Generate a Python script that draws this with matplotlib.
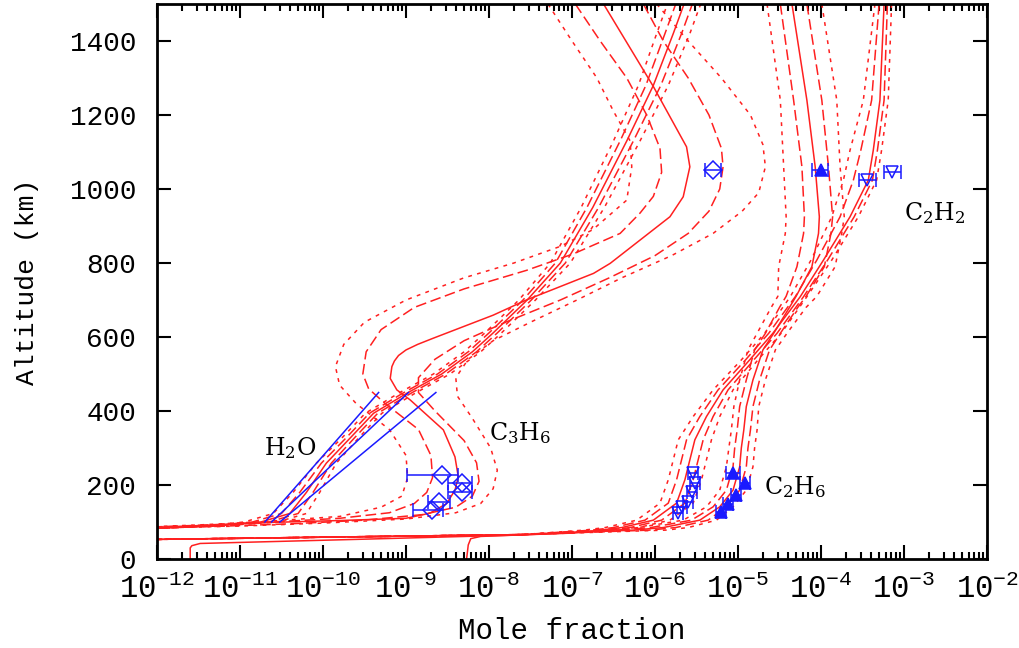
import numpy as np
import matplotlib
matplotlib.use('Agg')
import matplotlib.pyplot as plt
from matplotlib.ticker import FixedLocator, FuncFormatter, NullFormatter

plt.rcParams['font.family'] = ['Liberation Mono', 'DejaVu Sans Mono']
plt.rcParams['mathtext.fontset'] = 'custom'
plt.rcParams['mathtext.rm'] = 'Liberation Mono'
plt.rcParams['mathtext.default'] = 'regular'

# ---- model profiles: altitude (km) and log10 mole fraction ----
# H2O model (median + offsets of the 1-sigma / 2-sigma envelopes, in dex)
h2o_alt = [83, 90, 100, 123, 180, 259, 330, 394, 448, 500, 560, 611, 700, 800, 950, 1130, 1280, 1420, 1500]
h2o_mid = [-12.0, -11.3, -10.75, -10.40, -10.2, -9.96, -9.66, -9.39, -8.99, -8.57, -8.2, -7.95, -7.54, -7.14, -6.75, -6.34, -6.02, -5.78, -5.65]
h2o_d_lo = [0, -0.05, -0.1, -0.1, -0.08, -0.06, -0.05, -0.05, -0.05, -0.05, -0.05, -0.05, -0.05, -0.06, -0.07, -0.08, -0.09, -0.1, -0.1]
h2o_d_hi = [0, 0.05, 0.1, 0.1, 0.08, 0.06, 0.05, 0.05, 0.05, 0.05, 0.05, 0.05, 0.05, 0.06, 0.07, 0.08, 0.09, 0.1, 0.1]
h2o_s_lo = [0, -0.1, -0.2, -0.2, -0.16, -0.12, -0.1, -0.1, -0.1, -0.1, -0.1, -0.1, -0.1, -0.12, -0.14, -0.16, -0.18, -0.2, -0.2]
h2o_s_hi = [0, 0.1, 0.2, 0.2, 0.16, 0.12, 0.1, 0.1, 0.1, 0.1, 0.1, 0.1, 0.1, 0.12, 0.14, 0.16, 0.18, 0.2, 0.2]

# C3H6 model, each curve read separately
c3h6_mid_alt = [1500, 1277, 1114, 1060, 979, 925, 799, 772, 700, 659, 596, 580, 565, 550, 535, 520, 488, 457, 430, 349, 276, 222, 186, 150, 124, 110, 104, 99, 92, 86]
c3h6_mid = [-6.62, -6.02, -5.62, -5.58, -5.66, -5.82, -6.54, -6.74, -7.55, -7.95, -8.68, -8.86, -9.0, -9.09, -9.14, -9.17, -9.19, -9.11, -8.95, -8.55, -8.41, -8.37, -8.41, -8.51, -8.71, -9.0, -9.8, -10.6, -11.3, -12.0]
c3h6_lo1_alt = [1500, 1400, 1300, 1200, 1110, 1045, 980, 935, 880, 825, 780, 730, 680, 620, 560, 500, 460, 420, 350, 280, 220, 180, 150, 125, 110, 100, 92, 87]
c3h6_lo1 = [-6.96, -6.66, -6.34, -6.10, -5.94, -5.92, -6.02, -6.18, -6.42, -6.98, -7.55, -8.3, -8.9, -9.3, -9.48, -9.52, -9.45, -9.25, -8.85, -8.7, -8.68, -8.75, -8.9, -9.2, -9.8, -10.6, -11.4, -12.0]
c3h6_lo2_alt = [1500, 1400, 1300, 1210, 1130, 1060, 970, 890, 845, 800, 760, 700, 640, 580, 520, 470, 420, 350, 280, 220, 170, 140, 115, 100, 92, 88]
c3h6_lo2 = [-7.29, -7.0, -6.7, -6.5, -6.3, -6.28, -6.34, -6.75, -7.14, -7.7, -8.3, -9.0, -9.5, -9.75, -9.85, -9.8, -9.6, -9.2, -9.0, -8.98, -9.05, -9.3, -9.8, -10.8, -11.5, -12.0]
c3h6_hi1_alt = [1500, 1400, 1300, 1200, 1110, 1060, 1000, 940, 880, 820, 760, 700, 640, 590, 540, 490, 450, 400, 320, 260, 210, 170, 140, 120, 105, 95, 88, 84]
c3h6_hi1 = [-6.14, -5.9, -5.6, -5.35, -5.2, -5.18, -5.22, -5.35, -5.6, -6.0, -6.55, -7.14, -7.8, -8.3, -8.65, -8.85, -8.85, -8.65, -8.3, -8.15, -8.12, -8.2, -8.4, -8.8, -9.5, -10.4, -11.3, -12.0]
c3h6_hi2_alt = [1500, 1400, 1300, 1200, 1120, 1060, 990, 940, 880, 820, 760, 700, 640, 590, 540, 490, 440, 380, 300, 240, 190, 150, 125, 108, 97, 89, 84]
c3h6_hi2 = [-5.98, -5.6, -5.2, -4.85, -4.7, -4.67, -4.75, -4.95, -5.3, -5.8, -6.4, -6.94, -7.5, -7.95, -8.25, -8.4, -8.38, -8.2, -7.98, -7.9, -7.95, -8.1, -8.4, -9.0, -10.0, -11.0, -12.0]

# C2H6 model (median + envelope offsets), solid branch below 80 km
c2h6_alt = [1500, 1240, 1060, 925, 880, 790, 710, 680, 610, 565, 484, 412, 349, 300, 249, 186, 141, 105, 85, 78]
c2h6_mid = [-4.35, -4.17, -4.07, -4.02, -4.03, -4.11, -4.30, -4.38, -4.57, -4.70, -4.82, -4.90, -4.93, -4.96, -4.98, -5.06, -5.22, -5.46, -5.9, -6.27]
c2h6_d_lo = [-0.14, -0.16, -0.16, -0.18, -0.18, -0.18, -0.12, -0.12, -0.1, -0.1, -0.08, -0.08, -0.08, -0.08, -0.08, -0.08, -0.08, -0.1, -0.15, -0.2]
c2h6_d_hi = [0.18, 0.18, 0.16, 0.16, 0.15, 0.15, 0.12, 0.1, 0.08, 0.08, 0.08, 0.08, 0.08, 0.08, 0.08, 0.08, 0.08, 0.1, 0.15, 0.2]
c2h6_s_lo = [-0.30, -0.32, -0.38, -0.40, -0.40, -0.40, -0.22, -0.22, -0.2, -0.18, -0.16, -0.15, -0.15, -0.15, -0.16, -0.16, -0.16, -0.2, -0.3, -0.4]
c2h6_s_hi = [0.36, 0.36, 0.30, 0.30, 0.28, 0.28, 0.25, 0.2, 0.16, 0.15, 0.15, 0.15, 0.16, 0.16, 0.16, 0.16, 0.16, 0.2, 0.3, 0.4]
c2h6_tail_alt = [78, 72, 65, 61, 55, 38, 0]
c2h6_tail = [-6.27, -6.9, -7.63, -8.1, -8.22, -8.25, -8.27]

# C2H2 model (median + envelope offsets), solid branch below 80 km
c2h2_alt = [1500, 1240, 1105, 1024, 925, 808, 709, 610, 538, 457, 385, 322, 268, 214, 151, 105, 85, 78]
c2h2_mid = [-3.24, -3.29, -3.37, -3.43, -3.65, -3.97, -4.25, -4.58, -4.86, -5.18, -5.38, -5.52, -5.58, -5.64, -5.74, -6.02, -6.4, -6.66]
c2h2_d_lo = [-0.06, -0.1, -0.15, -0.18, -0.12, -0.08, -0.06, -0.05, -0.05, -0.06, -0.08, -0.1, -0.1, -0.1, -0.1, -0.1, -0.1, -0.1]
c2h2_d_hi = [0.04, 0.05, 0.05, 0.05, 0.05, 0.05, 0.04, 0.05, 0.05, 0.06, 0.08, 0.1, 0.1, 0.1, 0.1, 0.1, 0.1, 0.1]
c2h2_s_lo = [-0.11, -0.2, -0.28, -0.3, -0.22, -0.15, -0.12, -0.1, -0.1, -0.12, -0.16, -0.2, -0.2, -0.2, -0.2, -0.2, -0.2, -0.2]
c2h2_s_hi = [0.09, 0.1, 0.1, 0.1, 0.1, 0.1, 0.08, 0.1, 0.1, 0.12, 0.16, 0.2, 0.2, 0.2, 0.2, 0.2, 0.2, 0.2]
c2h2_tail_alt = [78, 70, 65, 53, 42, 36, 30, 0]
c2h2_tail = [-6.66, -7.0, -7.63, -9.6, -11.48, -11.58, -11.6, -11.6]

# envelopes of C2H2 / C2H6 end on this common line down to the left edge
cond_alt = [66, 53]
cond_L = [-7.6, -12.0]

# ---- observations ----
h2o_obs_alt = [100, 450]
h2o_obs_lo = [-10.70, -9.33]
h2o_obs_mid = [-10.62, -8.97]
h2o_obs_hi = [-10.52, -8.64]

c3h6_obs_alt = [227, 205, 182, 155, 132, 1051]
c3h6_obs = [-8.57, -8.33, -8.33, -8.60, -8.69, -5.30]
c3h6_obs_lo = [-8.99, -8.49, -8.49, -8.73, -8.91, -5.40]
c3h6_obs_hi = [-8.37, -8.21, -8.21, -8.47, -8.55, -5.20]

c2h6_obs_alt = [232, 205, 173, 150, 128, 1051]
c2h6_obs = [-5.06, -4.91, -5.02, -5.12, -5.20, -4.00]
c2h6_obs_lo = [-5.14, -4.98, -5.08, -5.18, -5.26, -4.11]
c2h6_obs_hi = [-4.98, -4.85, -4.96, -5.06, -5.14, -3.92]

c2h2_obs_alt = [232, 205, 182, 155, 141, 123, 1024, 1047]
c2h2_obs = [-5.54, -5.52, -5.56, -5.60, -5.68, -5.72, -3.44, -3.14]
c2h2_obs_lo = [-5.60, -5.58, -5.62, -5.66, -5.74, -5.78, -3.54, -3.24]
c2h2_obs_hi = [-5.48, -5.46, -5.50, -5.54, -5.62, -5.66, -3.34, -3.04]

fig = plt.figure(figsize=(10.19, 6.48), dpi=100)
ax = fig.add_axes([157 / 1019, 1 - 559 / 648, 830 / 1019, 555 / 648])

red = '#ff2020'
lw = 1.1
long_dash = (0, (7, 3))
short_dash = (0, (2.5, 3.5))


def plot_log(alt, logx, style, **kw):
    ax.plot(10.0 ** np.array(logx), alt, color=red, lw=lw, linestyle=style, **kw)


def plot_family(alt, mid, d_lo, d_hi, s_lo, s_hi, tail=None):
    mid = np.array(mid)
    for off, st in [(d_lo, long_dash), (d_hi, long_dash), (s_lo, short_dash), (s_hi, short_dash)]:
        a = list(alt)
        x = list(mid + np.array(off))
        if tail is not None:
            a += tail[0]
            x += tail[1]
        plot_log(a, x, st)


# H2O
plot_family(h2o_alt, h2o_mid, h2o_d_lo, h2o_d_hi, h2o_s_lo, h2o_s_hi)
plot_log(h2o_alt, h2o_mid, '-')

# C3H6
plot_log(c3h6_lo1_alt, c3h6_lo1, long_dash)
plot_log(c3h6_hi1_alt, c3h6_hi1, long_dash)
plot_log(c3h6_lo2_alt, c3h6_lo2, short_dash)
plot_log(c3h6_hi2_alt, c3h6_hi2, short_dash)
plot_log(c3h6_mid_alt, c3h6_mid, '-')

# C2H6 and C2H2
plot_family(c2h6_alt, c2h6_mid, c2h6_d_lo, c2h6_d_hi, c2h6_s_lo, c2h6_s_hi, (cond_alt, cond_L))
plot_log(c2h6_alt + c2h6_tail_alt[1:], c2h6_mid + c2h6_tail[1:], '-')
plot_family(c2h2_alt, c2h2_mid, c2h2_d_lo, c2h2_d_hi, c2h2_s_lo, c2h2_s_hi, (cond_alt, cond_L))
plot_log(c2h2_alt + c2h2_tail_alt[1:], c2h2_mid + c2h2_tail[1:], '-')
plot_log(cond_alt, cond_L, '-')

# observations
blue = '#1a1aff'
for xs in (h2o_obs_lo, h2o_obs_mid, h2o_obs_hi):
    ax.plot(10.0 ** np.array(xs), h2o_obs_alt, color=blue, lw=1.1)


def plot_obs(alt, val, lo, hi, marker, fill):
    v = 10.0 ** np.array(val)
    xerr = [v - 10.0 ** np.array(lo), 10.0 ** np.array(hi) - v]
    ax.errorbar(v, alt, xerr=xerr, fmt=marker, color=blue, ms=9, mew=1.1,
                mfc=blue if fill else 'none', ecolor=blue, elinewidth=1.1, capsize=5, capthick=1.1)


plot_obs(c3h6_obs_alt, c3h6_obs, c3h6_obs_lo, c3h6_obs_hi, 'D', False)
plot_obs(c2h6_obs_alt, c2h6_obs, c2h6_obs_lo, c2h6_obs_hi, '^', True)
plot_obs(c2h2_obs_alt, c2h2_obs, c2h2_obs_lo, c2h2_obs_hi, 'v', False)

# species labels
lab = dict(fontsize=17, family='DejaVu Serif', math_fontfamily='dejavuserif', ha='center', va='center')
ax.text(10 ** -10.40, 300, 'H$_2$O', **lab)
ax.text(10 ** -7.63, 340, 'C$_3$H$_6$', **lab)
ax.text(10 ** -4.31, 195, 'C$_2$H$_6$', **lab)
ax.text(10 ** -2.63, 935, 'C$_2$H$_2$', **lab)

ax.set_xscale('log')
ax.set_xlim(1e-12, 1e-2)
ax.set_ylim(0, 1500)
ax.xaxis.set_major_locator(FixedLocator([10.0 ** k for k in range(-12, -1)]))
ax.xaxis.set_major_formatter(FuncFormatter(lambda v, p: '$10^{%d}$' % round(np.log10(v))))
ax.xaxis.set_minor_locator(FixedLocator([m * 10.0 ** k for k in range(-12, -2) for m in range(2, 10)]))
ax.xaxis.set_minor_formatter(NullFormatter())
ax.set_yticks(range(0, 1401, 200))
ax.tick_params(which='both', direction='in', top=True, right=True, width=1.5)
ax.tick_params(which='major', length=10)
ax.tick_params(which='minor', length=5)
ax.tick_params(axis='x', labelsize=22, pad=11)
ax.tick_params(axis='y', labelsize=20, pad=15)
for s in ax.spines.values():
    s.set_linewidth(2)

ax.set_xlabel('Mole fraction', fontsize=21, labelpad=9)
ax.set_ylabel('Altitude (km)', fontsize=19, labelpad=22)

fig.savefig('out.png', dpi=100)
